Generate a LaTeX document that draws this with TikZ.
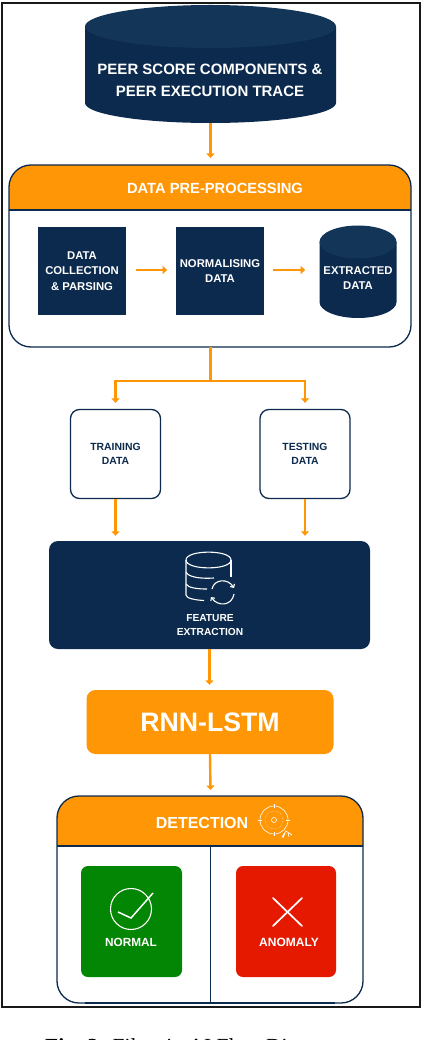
\documentclass[tikz,border=0pt]{standalone}
\usepackage{fontspec}
\setmainfont{Liberation Serif}
\newfontfamily\labelfont{Liberation Sans}
\usepackage{tikz}
\usetikzlibrary{arrows.meta,positioning,shapes.geometric}
\definecolor{navy}{HTML}{0B2A4E}
\definecolor{navytop}{HTML}{123558}
\definecolor{amber}{HTML}{FF9605}
\definecolor{okgreen}{HTML}{038603}
\definecolor{badred}{HTML}{E51800}
\begin{document}
\begin{tikzpicture}[
  x=1pt, y=-1pt,
  font=\labelfont\bfseries,
  sqbox/.style={draw=none, fill=navy, text=white, align=center, minimum width=88pt, minimum height=88pt, inner sep=0pt, font=\labelfont\bfseries\fontsize{11.3}{15.5}\selectfont},
  whitebox/.style={draw=navy, line width=1.3pt, fill=white, rounded corners=9pt, text=navy, align=center, minimum width=90pt, minimum height=89pt, inner sep=0pt, font=\labelfont\bfseries\fontsize{10.4}{14}\selectfont},
  arr/.style={-{Triangle[width=8pt,length=4.5pt]}, line width=2.4pt, draw=amber},
  panel/.style={draw=navy, line width=1.3pt},
  iconline/.style={draw=white, line width=1.1pt},
  banner/.style={text=white, inner sep=0pt}
]
\useasboundingbox (0,0) rectangle (422,1040);
% outer frame
\node[draw=black!90, line width=2pt, minimum width=418pt, minimum height=1003pt, inner sep=0pt] (frame) at (210.5,505) {};
% source cylinder
\fill[navy] (85,26.5) rectangle (336,103) (210.5,103) ellipse (125.5pt and 20pt);
\fill[navytop] (210.5,26.5) ellipse (125.5pt and 21.5pt);
\node[minimum width=251pt, minimum height=118pt, inner sep=0pt] (src) at (210.5,64) {};
\node[text=white, align=center, inner sep=0pt, font=\labelfont\bfseries\fontsize{15}{22}\selectfont] (srctxt) at (210,80) {PEER SCORE COMPONENTS \&\\PEER EXECUTION TRACE};
% pre-processing panel
\coordinate (pretop) at (210.5,165);
\coordinate (prebot) at (210.5,347);
\fill[amber] (9,210) [rounded corners=22pt] -- (9,165) -- (411,165) [sharp corners] -- (411,210) -- cycle;
\draw[panel, rounded corners=22pt] (9,256) |- (411,165) |- (9,347) -- cycle;
\draw[panel] (9,210) -- (411,210);
\node[banner, font=\labelfont\bfseries\fontsize{14.7}{16}\selectfont] (pretitle) at (215,188) {DATA PRE-PROCESSING};
\node[sqbox] (collect) at (82,271) {DATA\\COLLECTION\\\& PARSING};
\node[sqbox] (norm) at (220,271) {NORMALISING\\DATA};
\fill[navy] (319.5,242) rectangle (396.5,302) (358,302) ellipse (38.5pt and 16pt);
\fill[navytop] (358,242) ellipse (38.5pt and 16.5pt);
\node[minimum width=77pt, minimum height=93pt, inner sep=0pt] (ext) at (358,271) {};
\node[text=white, align=center, inner sep=0pt, font=\labelfont\bfseries\fontsize{11.3}{15}\selectfont] (exttxt) at (358,278) {EXTRACTED\\DATA};
\draw[arr] (src.south) -- ([yshift=7pt]pretop);
\draw[arr] (collect.east)+(10,-1) -- +(41,-1);
\draw[arr] (norm.east)+(9,-1) -- +(41,-1);
% split
\node[whitebox] (train) at (115.5,454) {TRAINING\\DATA};
\node[whitebox] (test) at (305,454) {TESTING\\DATA};
\coordinate (split) at (210.5,381);
\draw[amber, line width=2.4pt] (prebot) -- (split);
\draw[arr] (split) -| ([yshift=6pt]train.north);
\draw[arr] (split) -| ([yshift=6pt]test.north);
% feature extraction
\node[draw=none, fill=navy, rounded corners=9pt, minimum width=321pt, minimum height=108pt] (feat) at (209.5,595) {};
\draw[arr] (train.south) -- ([yshift=5pt]train.south |- feat.north);
\draw[arr] (test.south) -- ([yshift=5pt]test.south |- feat.north);
\draw[iconline] (186,560) .. controls (186,549.5) and (231,549.5) .. (231,560) .. controls (231,570.5) and (186,570.5) .. (186,560);
\draw[iconline] (186,560) -- (186,595) .. controls (186,598) and (194,600) .. (204,600.5);
\draw[iconline] (231,560) -- (231,577);
\draw[iconline] (186,572) .. controls (188,577) and (200,579) .. (214,578);
\draw[iconline] (186,584) .. controls (188,588) and (198,589) .. (207,589);
\draw[iconline, -{Straight Barb[length=2.5pt,width=5pt]}] (212,589) .. controls (214,579) and (228,578) .. (234,588);
\draw[iconline, -{Straight Barb[length=2.5pt,width=5pt]}] (234,594) .. controls (232,606) and (218,607) .. (211,597);
\node[text=white, align=center, inner sep=0pt, font=\labelfont\bfseries\fontsize{10.2}{14}\selectfont] (feattxt) at (210,625) {FEATURE\\EXTRACTION};
% model
\node[draw=none, fill=amber, rounded corners=9pt, minimum width=247pt, minimum height=64pt, text=white, font=\labelfont\bfseries\fontsize{26.7}{28}\selectfont] (rnn) at (210,722) {RNN-LSTM};
\draw[arr] (feat.south) -- ([yshift=5pt]feat.south |- rnn.north);
% detection panel
\coordinate (dettop) at (210.5,796);
\fill[amber] (57,846) [rounded corners=22pt] -- (57,796) -- (363,796) [sharp corners] -- (363,846) -- cycle;
\draw[panel, rounded corners=22pt] (57,900) |- (363,796) |- (57,1003) -- cycle;
\draw[panel] (57,846) -- (363,846);
\draw[panel] (210.5,846) -- (210.5,1003);
\draw[navy, line width=2pt] (85,1003) -- (335,1003);
\draw[arr] (rnn.south) -- ([yshift=6pt]dettop);
\node[banner, font=\labelfont\bfseries\fontsize{16}{18}\selectfont] (dettitle) at (202,823) {DETECTION};
% target icon
\draw[white, line width=0.6pt] (274,820) circle (14pt);
\draw[white, line width=0.4pt, densely dotted] (274,820) circle (9pt);
\draw[white, line width=0.6pt] (274,820) circle (2.5pt);
\foreach \ang in {0,90,180,270}
  \draw[white, line width=0.9pt] (274,820) ++(\ang:12pt) -- ++(\ang:4pt);
\draw[white, line width=0.7pt] (282,837) -- (286,831) -- (292,835) (285,833) -- (283,838) (288,833) -- (289,837);
% outcomes
\node[draw=none, fill=okgreen, rounded corners=7pt, minimum width=101pt, minimum height=111pt] (normal) at (131.5,921.5) {};
\node[draw=none, fill=badred, rounded corners=7pt, minimum width=100pt, minimum height=111pt] (anomaly) at (286,921.5) {};
\draw[white, line width=1.1pt] (131,909) circle (20.5pt);
\draw[white, line width=1.5pt] (118,912) -- (131,918) -- (153,893);
\node[text=white, inner sep=0pt, font=\labelfont\bfseries\fontsize{11.8}{13}\selectfont] (normaltxt) at (131,942) {NORMAL};
\draw[white, line width=1.7pt, line cap=round] (273,898) -- (302,926) (302,898) -- (273,926);
\node[text=white, inner sep=0pt, font=\labelfont\bfseries\fontsize{12}{13}\selectfont] (anomalytxt) at (289,942) {ANOMALY};
% caption
\node[anchor=base west, inner sep=0pt, font=\rmfamily\fontsize{21.5}{23}\selectfont, text=black] (caption) at (45,1053.5) {\textbf{Fig. 3:} Filecoin AI Flow Diagram};
\end{tikzpicture}
\end{document}
